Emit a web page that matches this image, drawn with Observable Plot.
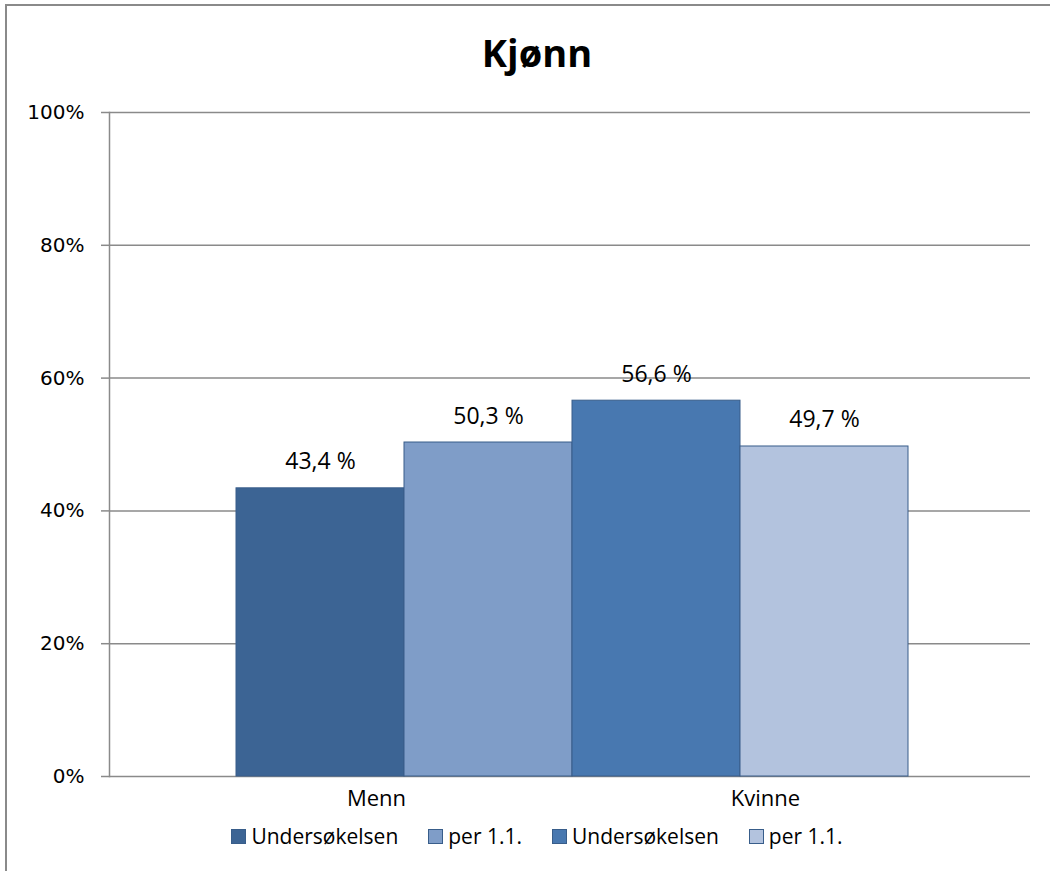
<!DOCTYPE html>
<html><head><meta charset="utf-8">
<script src="https://cdn.jsdelivr.net/npm/d3@7"></script>
<script src="https://cdn.jsdelivr.net/npm/@observablehq/plot@0.6"></script>
<style>
body{margin:0;background:#fff;overflow:hidden;}
#wrap{position:relative;width:1050px;height:871px;overflow:hidden;}
#frame{position:absolute;left:5px;top:4px;width:1100px;height:900px;border:2px solid #8a8a8a;box-sizing:border-box;}
#title{position:absolute;left:8px;top:26px;width:1058px;text-align:center;font:bold 38px "Open Sans";color:#000;}
#chart{position:absolute;left:0;top:0;}
#legend{position:absolute;left:8px;top:824px;width:1058px;display:flex;justify-content:center;align-items:center;font:21px "Open Sans";line-height:24px;color:#000;}
.item{display:flex;align-items:center;margin:0 15px;}
.sw{width:13px;height:13px;border:1px solid #385d8a;margin-right:5px;}
</style>
</head><body>
<div id="wrap">
<div id="frame"></div>
<div id="title">Kjønn</div>
<div id="chart"></div>
<div id="legend"></div>
</div>
<script>
const categories = ["Menn", "Kvinne"];
const seriesNames = ["Undersøkelsen", "per 1.1."];
const mennValues = [43.4, 50.3];
const kvinneValues = [56.6, 49.7];
const yTicks = [0, 20, 40, 60, 80, 100];
const barColors = ["#3c6494", "#7f9dc8", "#4878b0", "#b3c3de"];
const legendLabels = ["Undersøkelsen", "per 1.1.", "Undersøkelsen", "per 1.1."];

const valuesByCat = {"Menn": mennValues, "Kvinne": kvinneValues};
const data = [];
categories.forEach(c => seriesNames.forEach((s, i) => {
  data.push({category: c, series: s, key: c + " · " + s, value: valuesByCat[c][i]});
}));
const keys = data.map(d => d.key);
const fmt = v => v.toFixed(1).replace(".", ",") + " %";

const chart = Plot.plot({
  width: 1050,
  height: 830,
  marginTop: 112,
  marginBottom: 54,
  marginLeft: 109,
  marginRight: 20,
  style: {fontFamily: "DejaVu Sans", fontSize: "20px", background: "transparent"},
  x: {type: "band", domain: keys, paddingInner: 0, paddingOuter: 0.733, align: 0.51, axis: null},
  y: {domain: [0, 100], axis: null, label: null},
  color: {domain: keys, range: barColors},
  marks: [
    Plot.ruleY(yTicks, {stroke: "#8a8a8a", strokeWidth: 1.5}),
    Plot.barY(data, {x: "key", y: "value", fill: "key", stroke: "#385d8a", strokeWidth: 1}),
    Plot.frame({anchor: "left", stroke: "#8a8a8a", strokeWidth: 1.5}),
    Plot.axisY({ticks: yTicks, tickFormat: d => d + "%", tickSize: 8, tickPadding: 17, label: null,
      fontSize: 20, fontFamily: "DejaVu Sans", stroke: "#8a8a8a", fill: "#000", strokeWidth: 1.5}),
    Plot.text(data, {x: "key", y: "value", text: d => fmt(d.value), lineAnchor: "bottom", dy: -19,
      fontSize: 23, fontFamily: "Open Sans", fill: "#000"}),
    Plot.text(data.filter(d => d.category === "Menn" && d.series === seriesNames[0]),
      {x: "key", text: "category", frameAnchor: "bottom", lineAnchor: "top", dy: 14, dx: 56,
       fontSize: 22, fontFamily: "Open Sans", fill: "#000"}),
    Plot.text(data.filter(d => d.category === "Kvinne" && d.series === seriesNames[0]),
      {x: "key", text: "category", frameAnchor: "bottom", lineAnchor: "top", dy: 14, dx: 109,
       fontSize: 22, fontFamily: "Open Sans", fill: "#000"})
  ]
});
document.getElementById("chart").appendChild(chart);

const legend = document.getElementById("legend");
legendLabels.forEach((l, i) => {
  const it = document.createElement("div");
  it.className = "item";
  const sw = document.createElement("div");
  sw.className = "sw";
  sw.style.background = barColors[i];
  const t = document.createElement("span");
  t.textContent = l;
  it.appendChild(sw); it.appendChild(t);
  legend.appendChild(it);
});
</script>
</body></html>
